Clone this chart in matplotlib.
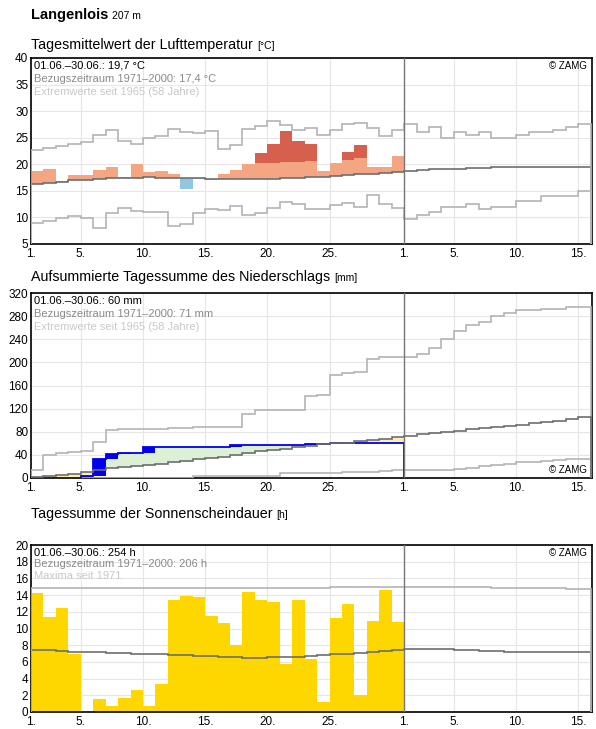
import numpy as np
import matplotlib
matplotlib.use("Agg")
import matplotlib.pyplot as plt

plt.rcParams['font.family'] = ['Liberation Sans', 'DejaVu Sans']

# ---------------- data ----------------
xtick_pos = [0, 4, 9, 14, 19, 24, 30, 34, 39, 44]
xtick_labels = ["1.", "5.", "10.", "15.", "20.", "25.", "1.", "5.", "10.", "15."]

temp_obs = [18.8, 19.2, 16.8, 17.9, 17.9, 19.0, 19.4, 17.7, 20.0, 18.5, 18.7, 18.1, 15.3, 17.3, 17.1,
            18.1, 18.9, 20.0, 22.2, 23.9, 26.3, 24.3, 23.9, 18.8, 20.3, 22.4, 23.6, 19.5, 19.5, 21.5]
temp_norm = [16.3, 16.5, 16.7, 17.0, 17.1, 17.3, 17.4, 17.5, 17.5, 17.6, 17.5, 17.5, 17.5, 17.5, 17.3,
             17.3, 17.3, 17.3, 17.3, 17.3, 17.5, 17.5, 17.6, 17.7, 17.8, 17.9, 18.1, 18.2, 18.4, 18.6,
             18.8, 19.0, 19.1, 19.2, 19.2, 19.3, 19.3, 19.4, 19.4, 19.4, 19.5, 19.5, 19.5, 19.5, 19.5]
temp_max = [22.7, 23.0, 23.4, 23.8, 24.2, 25.5, 26.4, 24.3, 23.9, 24.9, 25.4, 26.6, 26.1, 25.9, 26.2,
            22.9, 23.7, 26.6, 27.2, 28.1, 27.3, 26.4, 26.8, 25.5, 26.4, 27.5, 27.8, 26.8, 25.4, 26.4,
            27.5, 26.0, 27.0, 25.0, 26.0, 25.5, 26.0, 25.0, 25.0, 25.5, 26.0, 26.0, 26.5, 27.0, 27.5]
temp_min = [8.9, 9.4, 9.8, 10.3, 9.8, 8.0, 10.8, 11.8, 11.3, 11.0, 11.0, 8.4, 8.7, 10.9, 11.6,
            11.4, 12.2, 10.5, 10.9, 11.7, 12.9, 12.5, 11.6, 11.6, 12.4, 12.7, 12.0, 14.2, 12.6, 11.8,
            9.7, 10.5, 11.0, 12.0, 12.0, 12.5, 11.5, 12.0, 12.0, 13.0, 13.0, 14.0, 14.0, 14.0, 15.0]

prec_cum = [0, 0, 0, 0, 3, 33, 41, 43, 44, 54, 54, 54, 54, 54, 54,
            54, 57, 57, 57, 57, 57, 57, 58, 59, 60, 60, 60, 60, 60, 60]
prec_norm = [1, 3, 5, 7, 10, 13, 17, 19, 21, 23, 25, 27, 30, 33, 35,
             37, 40, 43, 46, 48, 50, 53, 55, 58, 60, 61, 64, 66, 68, 71,
             73, 76, 78, 80, 82, 84, 86, 88, 90, 92, 95, 97, 99, 102, 105]
prec_max = [14, 39, 43, 45, 47, 63, 83, 84, 84, 85, 85, 87, 87, 88, 88,
            88, 89, 111, 117, 117, 117, 117, 141, 143, 178, 181, 184, 205, 209, 209,
            209, 215, 225, 240, 255, 265, 270, 280, 285, 290, 290, 292, 292, 295, 296]
prec_min = [0, 0, 0, 0, 0, 0, 0, 0, 0, 0, 0, 0, 0, 4, 4,
            4, 4, 4, 4, 4, 8, 8, 8, 8, 8, 10, 10, 10, 12, 13,
            13, 13, 14, 14, 15, 18, 20, 22, 25, 28, 28, 30, 32, 33, 33]

sun_obs = [14.2, 11.4, 12.4, 7.0, 0.0, 1.5, 0.7, 1.7, 2.6, 0.7, 3.3, 13.4, 13.9, 13.8, 11.5,
           10.7, 8.0, 14.4, 13.4, 13.2, 5.7, 13.4, 6.3, 1.2, 11.2, 12.9, 2.0, 10.9, 14.6, 10.8]
sun_norm = [7.4, 7.4, 7.3, 7.2, 7.2, 7.2, 7.1, 7.1, 7.0, 7.0, 6.9, 6.8, 6.8, 6.7, 6.7,
            6.6, 6.6, 6.5, 6.5, 6.6, 6.6, 6.6, 6.7, 6.8, 6.9, 7.0, 7.1, 7.2, 7.3, 7.4,
            7.5, 7.5, 7.5, 7.5, 7.4, 7.4, 7.3, 7.3, 7.2, 7.2, 7.2, 7.2, 7.2, 7.2, 7.2]
sun_max = [14.8] * 16 + [14.9] * 8 + [15.0] * 6 + [15.0] * 7 + [14.9] * 4 + [14.8] * 2 + [14.7] * 2

# ---------------- figure ----------------
W, H = 596, 729
fig = plt.figure(figsize=(W / 100, H / 100), dpi=100)

def make_ax(top, bottom):
    return fig.add_axes([31 / W, 1 - bottom / H, 561 / W, (bottom - top) / H])

GRID = '#e6e6e6'
NORMC = '#6e6e6e'
EXTC = '#b4b4b4'

def style(ax, ylim, yticks):
    ax.set_xlim(0, 45.1)
    ax.set_ylim(*ylim)
    ax.set_yticks(yticks)
    ax.set_xticks(xtick_pos)
    ax.set_xticklabels(xtick_labels)
    ax.tick_params(length=0, labelsize=8.5, pad=2)
    ax.tick_params(axis='x', pad=3)
    ax.grid(True, color=GRID, lw=0.8, zorder=0)
    ax.set_axisbelow(True)
    ax.axvline(30, color='#777777', lw=1, zorder=5)
    for s in ax.spines.values():
        s.set_linewidth(1.2)

def info(ax, l1, l2, l3):
    ax.text(0.006, 0.985, l1, transform=ax.transAxes, va='top', fontsize=8, color='black', zorder=6)
    ax.text(0.006, 0.915, l2, transform=ax.transAxes, va='top', fontsize=8, color='#8a8a8a', zorder=6)
    ax.text(0.006, 0.845, l3, transform=ax.transAxes, va='top', fontsize=8, color='#c8c8c8', zorder=6)

def title(y, main, unit, size=10.3, bold=False, usize=7.5):
    t = fig.text(31 / W, 1 - y / H, main, fontsize=size, va='baseline',
                 fontweight='bold' if bold else 'normal')
    fig.canvas.draw()
    bb = t.get_window_extent()
    fig.text((bb.x1 + 4) / W, 1 - y / H, unit, fontsize=usize, va='baseline')

n_obs = len(temp_obs)
e45 = np.arange(len(temp_norm) + 1)
x30 = np.arange(n_obs)

title(19, "Langenlois", "207 m", size=10.5, bold=True)

# ---- temperature ----
ax1 = make_ax(58, 244)
style(ax1, (5, 40), range(5, 41, 5))
title(49, "Tagesmittelwert der Lufttemperatur", "[°C]")
tobs = np.array(temp_obs)
tn = np.array(temp_norm[:n_obs])
light_top = np.minimum(tobs, tn + 3)
above = tobs > tn
ax1.bar(x30[above], (light_top - tn)[above], bottom=tn[above], width=1, align='edge',
        color='#f4a582', lw=0, zorder=2)
red = tobs > tn + 3
ax1.bar(x30[red], (tobs - tn - 3)[red], bottom=(tn + 3)[red], width=1, align='edge',
        color='#d6604d', lw=0, zorder=2)
below = tobs < tn
ax1.bar(x30[below], (tobs - tn)[below], bottom=tn[below], width=1, align='edge',
        color='#92c5de', lw=0, zorder=2)
ax1.stairs(temp_norm, e45, color=NORMC, lw=1.2, zorder=3)
ax1.stairs(temp_max, e45, color=EXTC, lw=1.2, zorder=3)
ax1.stairs(temp_min, e45, color=EXTC, lw=1.2, zorder=3)
info(ax1, "01.06.–30.06.: 19,7 °C", "Bezugszeitraum 1971–2000: 17,4 °C", "Extremwerte seit 1965 (58 Jahre)")
ax1.text(0.99, 0.985, "© ZAMG", transform=ax1.transAxes, ha='right', va='top', fontsize=7)

# ---- precipitation ----
ax2 = make_ax(293, 478)
style(ax2, (0, 320), range(0, 321, 40))
title(281, "Aufsummierte Tagessumme des Niederschlags", "[mm]")
pc = np.array(prec_cum, float)
pn = np.array(prec_norm[:n_obs], float)
gm = pc > pn
ym = pc < pn
ax2.bar(x30[gm], (pc - pn)[gm], bottom=pn[gm], width=1, align='edge', color='#dcf0d6', lw=0, zorder=2.5)
ax2.bar(x30[ym], (pn - pc)[ym], bottom=pc[ym], width=1, align='edge', color='#fff0a8', lw=0, zorder=2.5)
prev = np.concatenate([[0], pc[:-1]])
inc = pc - prev
m = inc > 0
ax2.bar(x30[m], inc[m], bottom=prev[m], width=1, align='edge', color='#0000ee', lw=0, zorder=3)
ax2.stairs(prec_cum, np.arange(n_obs + 1), color='#0000ee', lw=1.3, zorder=4)
ax2.stairs(prec_norm, e45, color=NORMC, lw=1.2, zorder=4)
ax2.stairs(prec_max, e45, color=EXTC, lw=1.2, zorder=3)
ax2.stairs(prec_min, e45, color=EXTC, lw=1.2, zorder=3)
info(ax2, "01.06.–30.06.: 60 mm", "Bezugszeitraum 1971–2000: 71 mm", "Extremwerte seit 1965 (58 Jahre)")
ax2.text(0.99, 0.015, "© ZAMG", transform=ax2.transAxes, ha='right', va='bottom', fontsize=7)

# ---- sunshine ----
ax3 = make_ax(545, 712)
style(ax3, (0, 20), range(0, 21, 2))
title(518, "Tagessumme der Sonnenscheindauer", "[h]")
ax3.bar(x30, sun_obs, width=1, align='edge', color='#ffd700', lw=0, zorder=2)
ax3.stairs(sun_norm, e45, color=NORMC, lw=1.2, zorder=3)
ax3.stairs(sun_max, e45, color=EXTC, lw=1.2, zorder=3)
info(ax3, "01.06.–30.06.: 254 h", "Bezugszeitraum 1971–2000: 206 h", "Maxima seit 1971")
ax3.text(0.99, 0.985, "© ZAMG", transform=ax3.transAxes, ha='right', va='top', fontsize=7)

fig.savefig("out.png", dpi=100)
